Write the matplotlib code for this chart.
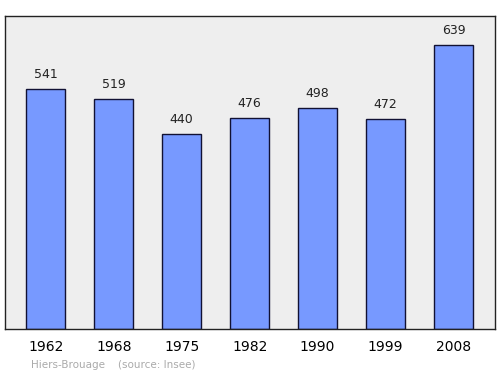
import matplotlib
matplotlib.use('Agg')
import matplotlib.pyplot as plt

years = ['1962', '1968', '1975', '1982', '1990', '1999', '2008']
population = [541, 519, 440, 476, 498, 472, 639]

fig = plt.figure(figsize=(5, 3.74), dpi=100)
ax = fig.add_axes([5 / 500, 1 - 329 / 374, 490 / 500, 313 / 374])
ax.set_facecolor('#eeeeee')

x = range(len(years))
ax.bar(x, population, width=0.574, color='#7799ff', edgecolor='#111133', linewidth=1)
for i, v in zip(x, population):
    ax.text(i, v + 18, str(v), ha='center', va='bottom', fontsize=9, color='#222222')

ax.set_xlim(-0.6, 6.61)
ax.set_ylim(0, 705)
ax.set_xticks(list(x))
ax.set_xticklabels(years, fontsize=10)
ax.tick_params(axis='x', length=0, pad=8)
ax.set_yticks([])
for s in ax.spines.values():
    s.set_color('#222222')
    s.set_linewidth(1)

fig.text(31 / 500, 1 - 365 / 374, 'Hiers-Brouage    (source: Insee)', fontsize=7.5,
         color='#aaaaaa', va='center')

plt.savefig('out.png')
